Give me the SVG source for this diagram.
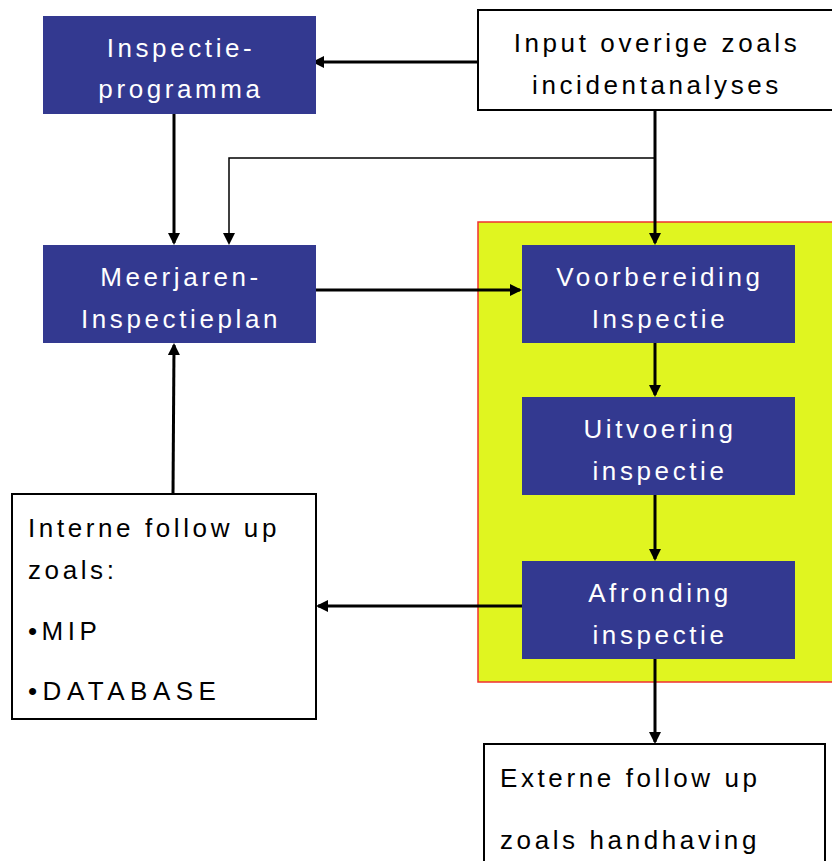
<svg xmlns="http://www.w3.org/2000/svg" width="832" height="861" viewBox="0 0 832 861">
<style>
.blue{fill:#333990}
.white{fill:#fff;stroke:#000;stroke-width:2}
.t{font-family:"Liberation Sans",Arial,sans-serif;font-size:26px;letter-spacing:3.6px}
.tw{fill:#fff;text-anchor:middle}
.tb{fill:#000}
.c{stroke:#000;stroke-width:3;fill:none}
.thin{stroke:#000;stroke-width:1.5;fill:none}
</style>
<defs>
<marker id="ah" markerWidth="12" markerHeight="12" refX="10" refY="6" orient="auto" markerUnits="userSpaceOnUse" viewBox="0 0 12 12">
<path d="M0,0 L12,6 L0,12 z" fill="#000"/>
</marker>
</defs>
<rect x="478" y="222" width="356" height="460" fill="#e0f520" stroke="#f03030" stroke-width="1.5"/>
<g id="connectors">
<line class="c" x1="478" y1="62" x2="314" y2="62" marker-end="url(#ah)"/>
<line class="c" x1="174" y1="114" x2="174" y2="243" marker-end="url(#ah)"/>
<line class="c" x1="655" y1="110" x2="655" y2="243" marker-end="url(#ah)"/>
<polyline class="thin" points="655,158 229,158 229,243" marker-end="url(#ah)"/>
<line class="c" x1="316" y1="290" x2="520" y2="290" marker-end="url(#ah)"/>
<line class="c" x1="655" y1="343" x2="655" y2="395" marker-end="url(#ah)"/>
<line class="c" x1="655" y1="495" x2="655" y2="559" marker-end="url(#ah)"/>
<line class="c" x1="525" y1="606" x2="318" y2="606" marker-end="url(#ah)"/>
<line class="c" x1="173" y1="494" x2="174" y2="345" marker-end="url(#ah)"/>
<line class="c" x1="655" y1="659" x2="655" y2="742" marker-end="url(#ah)"/>
</g>
<g id="inspectieprogramma">
<rect class="blue" x="43" y="16" width="273" height="98"/>
<text class="t tw" x="181" y="57">Inspectie-</text>
<text class="t tw" x="181" y="98">programma</text>
</g>
<g id="input">
<rect class="white" x="478" y="10" width="360" height="100"/>
<text class="t tb" x="657" y="52" text-anchor="middle">Input overige zoals</text>
<text class="t tb" x="657" y="94" text-anchor="middle">incidentanalyses</text>
</g>
<g id="meerjaren">
<rect class="blue" x="43" y="245" width="273" height="98"/>
<text class="t tw" x="181" y="286">Meerjaren-</text>
<text class="t tw" x="181" y="328">Inspectieplan</text>
</g>
<g id="voorbereiding">
<rect class="blue" x="522" y="245" width="273" height="98"/>
<text class="t tw" x="660" y="286">Voorbereiding</text>
<text class="t tw" x="660" y="328">Inspectie</text>
</g>
<g id="uitvoering">
<rect class="blue" x="522" y="397" width="273" height="98"/>
<text class="t tw" x="660" y="438">Uitvoering</text>
<text class="t tw" x="660" y="480">inspectie</text>
</g>
<g id="afronding">
<rect class="blue" x="522" y="561" width="273" height="98"/>
<text class="t tw" x="660" y="602">Afronding</text>
<text class="t tw" x="660" y="644">inspectie</text>
</g>
<g id="interne">
<rect class="white" x="12" y="494" width="304" height="225"/>
<text class="t tb" x="28" y="537">Interne follow up</text>
<text class="t tb" x="28" y="579">zoals:</text>
<text class="t tb" x="28" y="640" style="letter-spacing:4.5px">•MIP</text>
<text class="t tb" x="28" y="700" style="letter-spacing:5.5px">•DATABASE</text>
</g>
<g id="externe">
<rect class="white" x="484" y="744" width="341" height="125"/>
<text class="t tb" x="500" y="787">Externe follow up</text>
<text class="t tb" x="500" y="849">zoals handhaving</text>
</g>
</svg>
